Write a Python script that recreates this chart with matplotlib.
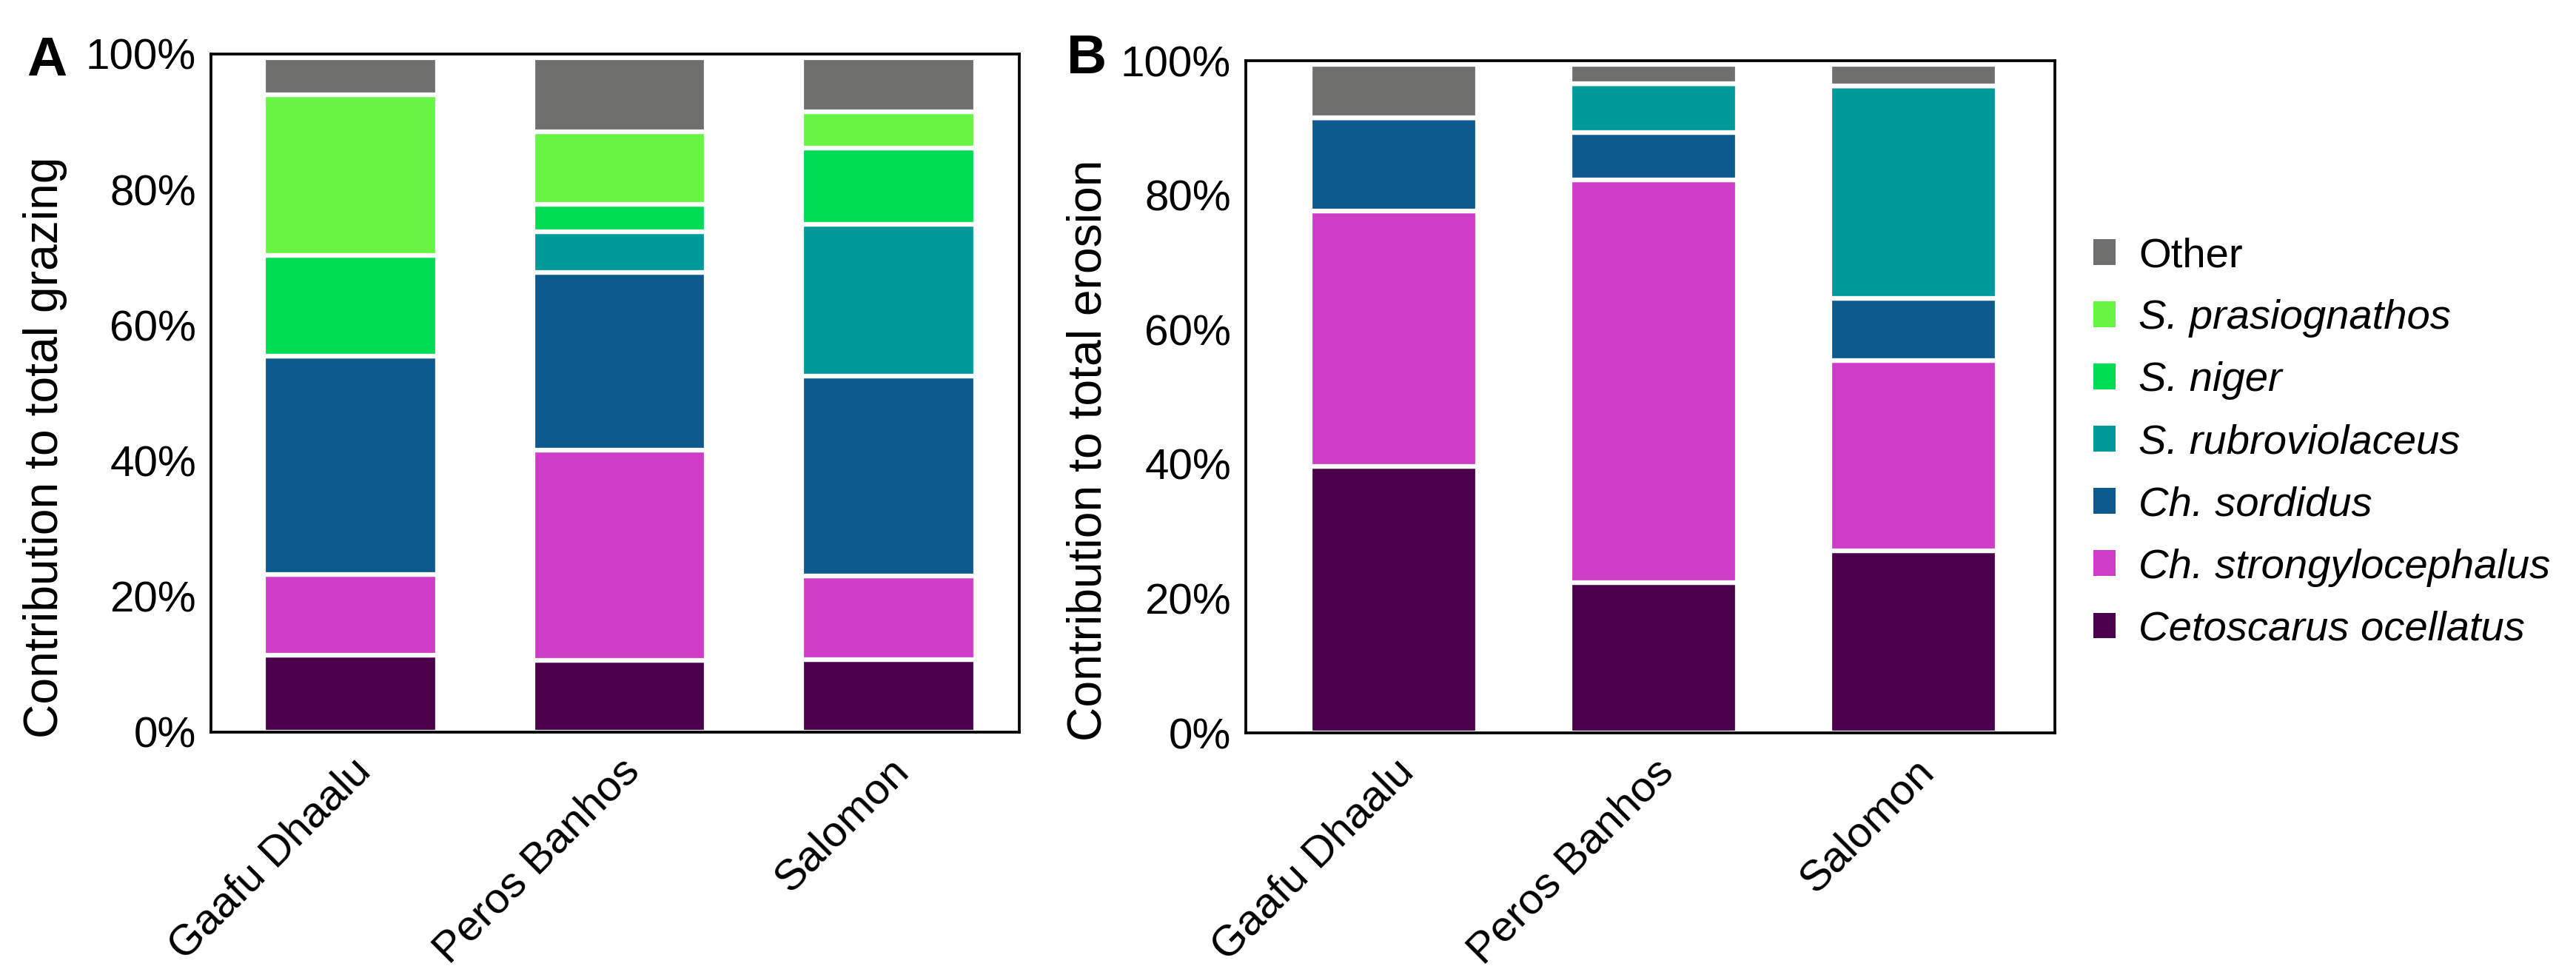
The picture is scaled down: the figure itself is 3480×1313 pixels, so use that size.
import numpy as np
import matplotlib
matplotlib.use('Agg')
import matplotlib.pyplot as plt
from matplotlib.patches import Patch
from matplotlib import font_manager

plt.rcParams['font.family'] = ['Liberation Sans', 'DejaVu Sans']

# tick labels in the reference use a narrow face, fall back to regular
narrow, tick_size = 'Liberation Sans Narrow', 15.5
names = {f.name for f in font_manager.fontManager.ttflist}
if narrow not in names:
    narrow, tick_size = 'Liberation Sans', 14

sites = ['Gaafu Dhaalu', 'Peros Banhos', 'Salomon']
species = ['Cetoscarus ocellatus', 'Ch. strongylocephalus', 'Ch. sordidus',
           'S. rubroviolaceus', 'S. niger', 'S. prasiognathos', 'Other']
colors = ['#4b004b', '#cf3cc8', '#0e5a8e', '#009a9a', '#00dd55', '#66f542', '#6f706d']

# A - contribution to total grazing (%)
graz_cetoscarus = [11.3, 10.6, 10.7]
graz_strongylo = [11.9, 31.0, 12.3]
graz_sordidus = [32.3, 26.2, 29.5]
graz_rubro = [0.0, 6.0, 22.4]
graz_niger = [14.8, 4.0, 11.2]
graz_prasio = [23.7, 10.7, 5.4]
graz_other = [5.5, 11.0, 7.9]

# B - contribution to total erosion (%)
eros_cetoscarus = [39.6, 22.4, 27.1]
eros_strongylo = [38.0, 59.9, 28.3]
eros_sordidus = [13.9, 7.0, 9.2]
eros_rubro = [0.0, 7.3, 31.7]
eros_niger = [0.0, 0.0, 0.0]
eros_prasio = [0.0, 0.0, 0.0]
eros_other = [8.0, 2.9, 3.2]

grazing = [graz_cetoscarus, graz_strongylo, graz_sordidus, graz_rubro,
           graz_niger, graz_prasio, graz_other]
erosion = [eros_cetoscarus, eros_strongylo, eros_sordidus, eros_rubro,
           eros_niger, eros_prasio, eros_other]

W, H, DPI = 3480, 1313, 300
fig = plt.figure(figsize=(W / DPI, H / DPI), dpi=DPI)


def px_axes(l, t, r, b):
    return fig.add_axes([l / W, 1 - b / H, (r - l) / W, (b - t) / H])


def stacked(ax, data, ylabel, xlim, lab_x):
    x = np.arange(len(sites))
    bottom = np.zeros(len(sites))
    for vals, c in zip(data, colors):
        vals = np.array(vals)
        ax.bar(x, vals, 0.645, bottom=bottom, color=c, edgecolor='white',
               linewidth=1.5, zorder=2)
        bottom += vals
    ax.set_xlim(*xlim)
    ax.set_ylim(0, 100)
    ax.set_yticks([0, 20, 40, 60, 80, 100])
    ax.set_yticklabels(['0%', '20%', '40%', '60%', '80%', '100%'],
                       family=narrow, fontsize=tick_size)
    ax.set_xticks(x)
    ax.set_xticklabels(sites, rotation=45, ha='right', rotation_mode='anchor',
                       fontsize=14)
    ax.tick_params(axis='both', length=0)
    ax.tick_params(axis='y', pad=4.8)
    ax.tick_params(axis='x', pad=6)
    for s in ax.spines.values():
        s.set_linewidth(0.9)
    ax.set_ylabel(ylabel, fontsize=15.4)
    ax.yaxis.set_label_coords(lab_x, 0.42)


axA = px_axes(285, 73, 1377, 989)
stacked(axA, grazing, 'Contribution to total grazing', (-0.518, 2.486), -0.178)
axB = px_axes(1683, 82, 2776, 990)
stacked(axB, erosion, 'Contribution to total erosion', (-0.569, 2.545), -0.167)

fig.text(36 / W, 1 - 102 / H, 'A', fontsize=18, fontweight='bold', va='baseline')
fig.text(1441 / W, 1 - 99 / H, 'B', fontsize=18, fontweight='bold', va='baseline')

handles = [Patch(facecolor=c, edgecolor='none') for c in colors][::-1]
labels = species[::-1]
leg = fig.legend(handles, labels, loc='center left',
                 bbox_to_anchor=(2828 / W, 1 - 598.5 / H), frameon=False,
                 fontsize=13.5, borderaxespad=0, borderpad=0,
                 handlelength=0.54, handleheight=0.57, handletextpad=0.55,
                 labelspacing=0.57)
for t in leg.get_texts():
    if t.get_text() != 'Other':
        t.set_fontstyle('italic')

fig.savefig('out.png', dpi=DPI)
